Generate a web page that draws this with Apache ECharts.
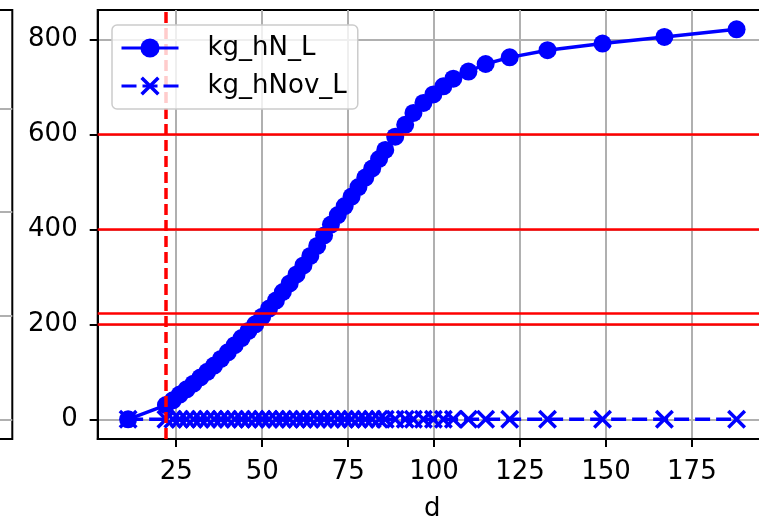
<!DOCTYPE html>
<html>
<head>
<meta charset="utf-8">
<script src="https://cdn.jsdelivr.net/npm/echarts@6/dist/echarts.min.js"></script>
<style>html,body{margin:0;padding:0;background:#fff}#c{width:759px;height:518px}</style>
</head>
<body>
<div id="c"></div>
<script>
// ---- data ----
var dValues = [11, 22, 24, 26, 28, 30, 32, 34, 36, 38, 40, 42, 44, 46, 48, 50, 52, 54, 56, 58, 60, 62, 64, 66, 68, 70, 72, 74, 76, 78, 80, 82, 84, 85.8, 88.7, 91.6, 94, 96.9, 99.8, 102.7, 105.6, 110, 115, 122, 133, 149, 167, 188];
var kgHN = [0, 30, 40, 52, 63, 75, 88, 100, 113, 127, 141, 156, 171, 186, 200, 216, 233, 250, 268, 286, 305, 324, 344, 365, 387, 410, 430, 449, 469, 489, 509, 528, 548, 567, 595, 620, 645, 666, 684, 701, 717, 732, 748, 762, 777, 791, 805, 821];
var kgHNov = [0, 0, 0, 0, 0, 0, 0, 0, 0, 0, 0, 0, 0, 0, 0, 0, 0, 0, 0, 0, 0, 0, 0, 0, 0, 0, 0, 0, 0, 0, 0, 0, 0, 0, 0, 0, 0, 0, 0, 0, 0, 0, 0, 0, 0, 0, 0, 0];
var seriesNames = ['kg_hN_L', 'kg_hNov_L'];
var xTicks = [25, 50, 75, 100, 125, 150, 175];
var yTicks = [0, 200, 400, 600, 800];
var redLevels = [200, 223, 400, 600];
var redCut = 22;
var leftPanelTicks = [0, 1, 2, 3];
var xLabel = 'd';

// ---- chart ----
var FONT = 'DejaVu Sans';
var FS = 26;
var xPath = 'path://M0,2.6 L2.6,0 L10,7.4 L17.4,0 L20,2.6 L12.6,10 L20,17.4 L17.4,20 L10,12.6 L2.6,20 L0,17.4 L7.4,10 Z';
function pairs(xs, ys) { return xs.map(function (x, i) { return [x, ys[i]]; }); }

var hLines = redLevels.map(function (v) { return { yAxis: v }; });
var vLines = [{ xAxis: redCut }];

var chart = echarts.init(document.getElementById('c'), null, { renderer: 'canvas' });
chart.setOption({
  animation: false,
  textStyle: { fontFamily: FONT },
  grid: [
    { left: 97.7, top: 10, width: 669.3, height: 429, outerBoundsMode: 'none', containLabel: false, show: true, borderColor: '#000', borderWidth: 2, backgroundColor: 'transparent' },
    { left: -100, top: 10, width: 112.3, height: 429, outerBoundsMode: 'none', containLabel: false, show: true, borderColor: '#000', borderWidth: 2, backgroundColor: 'transparent' }
  ],
  xAxis: [
    {
      gridIndex: 0, type: 'value', min: 2.15, max: 196.85,
      name: xLabel, nameLocation: 'middle', nameGap: 57,
      nameTextStyle: { fontSize: FS, color: '#000', fontFamily: FONT },
      axisLine: { show: true, onZero: false, lineStyle: { color: '#000', width: 2 } },
      axisTick: { show: true, length: 8, customValues: xTicks, lineStyle: { color: '#000', width: 2 } },
      axisLabel: { customValues: xTicks, fontSize: FS, color: '#000', margin: 20, fontFamily: FONT },
      splitLine: { show: true, lineStyle: { color: '#b0b0b0', width: 2 } }
    },
    { gridIndex: 1, type: 'value', min: 0, max: 1, show: false }
  ],
  yAxis: [
    {
      gridIndex: 0, type: 'value', min: -41.5, max: 861.7,
      axisLine: { show: true, onZero: false, lineStyle: { color: '#000', width: 2 } },
      axisTick: { show: true, length: 8, customValues: yTicks, lineStyle: { color: '#000', width: 2 } },
      axisLabel: { customValues: yTicks, fontSize: FS, color: '#000', margin: 20, fontFamily: FONT },
      splitLine: { show: true, lineStyle: { color: '#b0b0b0', width: 2 } }
    },
    {
      gridIndex: 1, type: 'value', min: -0.19, max: 3.95,
      axisLine: { show: false },
      axisTick: { show: false, customValues: leftPanelTicks },
      axisLabel: { show: false, customValues: leftPanelTicks },
      splitLine: { show: true, lineStyle: { color: '#b0b0b0', width: 2 } }
    }
  ],
  legend: {
    left: 112, top: 25, orient: 'vertical', z: 10,
    backgroundColor: 'rgba(255,255,255,0.8)', borderColor: '#cccccc', borderWidth: 1.5, borderRadius: 5,
    padding: [10, 11, 10, 8], itemGap: 12, itemWidth: 57, itemHeight: 24,
    lineStyle: { width: 3 },
    textStyle: { fontSize: FS, color: '#000', fontFamily: FONT, padding: [0, 0, 0, 24] },
    data: seriesNames
  },
  series: [
    {
      name: seriesNames[0], type: 'line', xAxisIndex: 0, yAxisIndex: 0,
      data: pairs(dValues, kgHN),
      symbol: 'circle', symbolSize: 18, showAllSymbol: true,
      itemStyle: { color: '#0000ff' },
      lineStyle: { color: '#0000ff', width: 3.5 },
      markLine: { silent: true, symbol: ['none', 'none'], label: { show: false }, animation: false, z: 5,
        lineStyle: { color: '#ff0000', width: 2.5, type: 'solid' }, data: hLines }
    },
    {
      name: seriesNames[1], type: 'line', xAxisIndex: 0, yAxisIndex: 0,
      data: pairs(dValues, kgHNov),
      symbol: xPath, symbolSize: 19, showAllSymbol: true,
      itemStyle: { color: '#0000ff' },
      lineStyle: { color: '#0000ff', width: 3.5, type: [15, 6] },
      markLine: { silent: true, symbol: ['none', 'none'], label: { show: false }, animation: false, z: 5,
        lineStyle: { color: '#ff0000', width: 3.5, type: [11, 5] }, data: vLines }
    }
  ]
});
</script>
</body>
</html>
